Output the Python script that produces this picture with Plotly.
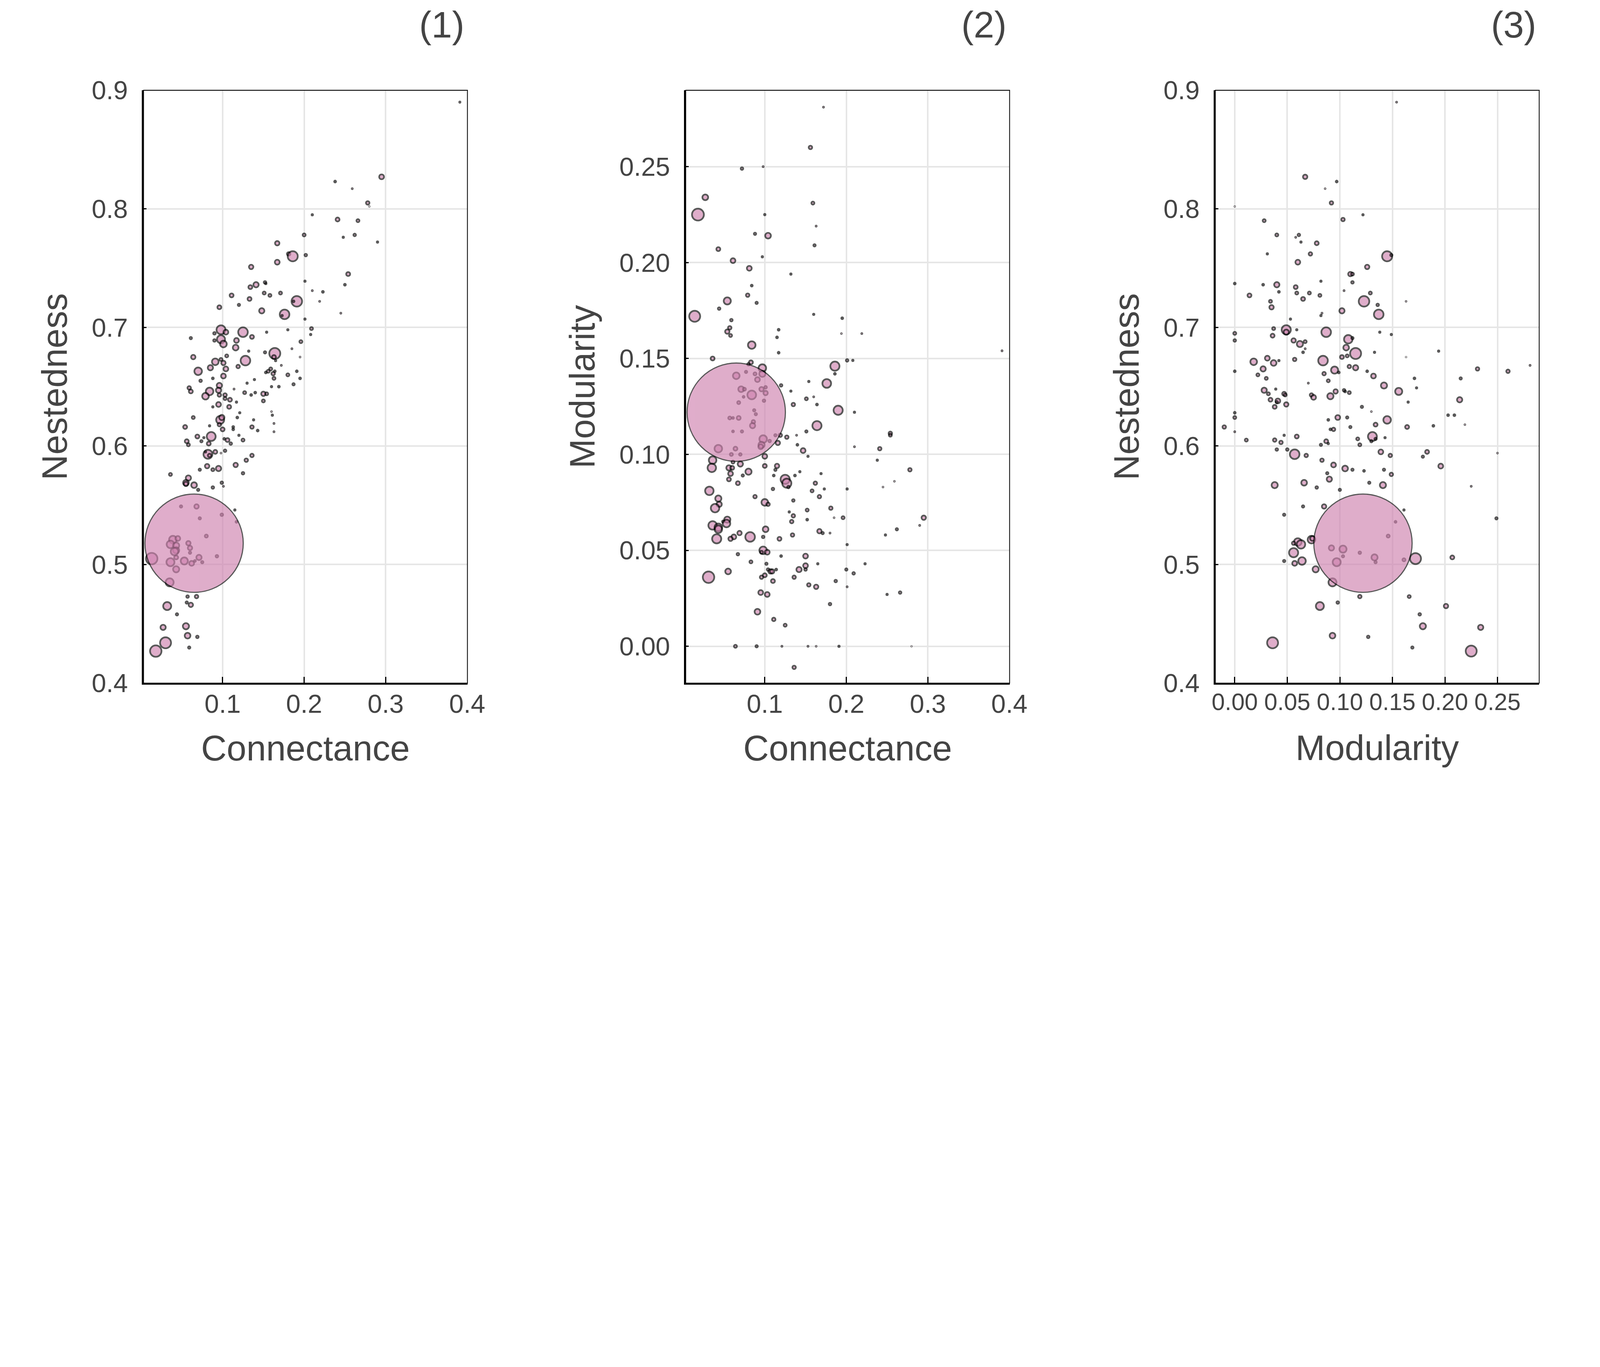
import plotly.graph_objects as go

# (connectance, nestedness, bubble diameter) (1)
panel1_points = [
    (0.391, 0.890, 5), (0.295, 0.827, 21), (0.238, 0.823, 8), (0.259, 0.817, 4), (0.278, 0.805, 15),
    (0.280, 0.802, 2), (0.210, 0.795, 6), (0.241, 0.791, 17), (0.266, 0.790, 13), (0.200, 0.778, 13),
    (0.248, 0.776, 6), (0.262, 0.778, 11), (0.290, 0.772, 6), (0.167, 0.771, 19), (0.181, 0.762, 15),
    (0.186, 0.760, 44), (0.202, 0.761, 11), (0.167, 0.755, 21), (0.135, 0.751, 19), (0.254, 0.745, 17),
    (0.201, 0.739, 6), (0.152, 0.738, 11), (0.153, 0.737, 6), (0.134, 0.734, 17), (0.141, 0.736, 23),
    (0.250, 0.736, 8), (0.210, 0.731, 4), (0.223, 0.730, 8), (0.111, 0.727, 17), (0.151, 0.729, 13),
    (0.158, 0.727, 13), (0.171, 0.729, 13), (0.133, 0.724, 17), (0.120, 0.719, 10), (0.219, 0.722, 4),
    (0.191, 0.722, 46), (0.187, 0.722, 8), (0.096, 0.717, 17), (0.148, 0.714, 23), (0.176, 0.711, 42),
    (0.173, 0.710, 6), (0.245, 0.712, 4), (0.201, 0.707, 6), (0.209, 0.699, 13), (0.208, 0.694, 6),
    (0.180, 0.698, 6), (0.154, 0.696, 6), (0.098, 0.698, 39), (0.104, 0.696, 21), (0.090, 0.695, 11),
    (0.125, 0.696, 42), (0.136, 0.692, 17), (0.061, 0.691, 10), (0.090, 0.689, 11), (0.098, 0.690, 35),
    (0.101, 0.686, 29), (0.117, 0.689, 21), (0.116, 0.683, 25), (0.196, 0.688, 13), (0.132, 0.680, 6),
    (0.152, 0.679, 10), (0.185, 0.682, 4), (0.195, 0.675, 3), (0.164, 0.678, 48), (0.163, 0.675, 17),
    (0.165, 0.672, 6), (0.064, 0.675, 19), (0.105, 0.676, 13), (0.098, 0.673, 13), (0.091, 0.671, 29),
    (0.101, 0.670, 19), (0.128, 0.672, 42), (0.172, 0.668, 4), (0.070, 0.663, 33), (0.085, 0.666, 23),
    (0.104, 0.665, 21), (0.119, 0.667, 15), (0.159, 0.665, 13), (0.156, 0.663, 13), (0.153, 0.662, 8),
    (0.164, 0.663, 8), (0.162, 0.661, 15), (0.191, 0.663, 8), (0.180, 0.660, 13), (0.101, 0.659, 21),
    (0.073, 0.655, 11), (0.088, 0.657, 8), (0.163, 0.657, 13), (0.195, 0.657, 8), (0.139, 0.656, 6),
    (0.130, 0.653, 6), (0.187, 0.652, 10), (0.160, 0.650, 6), (0.169, 0.650, 8), (0.096, 0.651, 23),
    (0.059, 0.649, 15), (0.061, 0.646, 17), (0.084, 0.646, 33), (0.079, 0.642, 29), (0.095, 0.647, 23),
    (0.096, 0.643, 15), (0.103, 0.643, 15), (0.103, 0.640, 13), (0.109, 0.639, 17), (0.127, 0.645, 13),
    (0.135, 0.643, 8), (0.140, 0.645, 8), (0.150, 0.644, 19), (0.154, 0.644, 13), (0.150, 0.638, 13),
    (0.114, 0.648, 4), (0.117, 0.637, 6), (0.088, 0.633, 6), (0.095, 0.635, 21), (0.108, 0.633, 17),
    (0.064, 0.624, 13), (0.121, 0.628, 6), (0.160, 0.629, 3), (0.161, 0.626, 6), (0.097, 0.622, 35),
    (0.099, 0.624, 23), (0.118, 0.624, 8), (0.138, 0.622, 6), (0.054, 0.616, 17), (0.084, 0.617, 6),
    (0.096, 0.618, 15), (0.100, 0.614, 17), (0.113, 0.616, 8), (0.113, 0.614, 8), (0.136, 0.616, 15),
    (0.143, 0.613, 8), (0.163, 0.619, 4), (0.163, 0.612, 4), (0.069, 0.608, 17), (0.086, 0.608, 39),
    (0.077, 0.607, 6), (0.074, 0.604, 10), (0.056, 0.604, 17), (0.058, 0.601, 13), (0.083, 0.602, 17),
    (0.102, 0.606, 8), (0.106, 0.605, 17), (0.110, 0.602, 11), (0.120, 0.609, 6), (0.125, 0.605, 13),
    (0.082, 0.593, 39), (0.084, 0.592, 15), (0.079, 0.595, 6), (0.091, 0.595, 17), (0.103, 0.596, 11),
    (0.098, 0.594, 3), (0.136, 0.592, 15), (0.129, 0.588, 15), (0.072, 0.580, 10), (0.081, 0.583, 19),
    (0.088, 0.580, 13), (0.095, 0.581, 23), (0.116, 0.584, 19), (0.125, 0.577, 11), (0.036, 0.576, 13),
    (0.058, 0.573, 23), (0.055, 0.569, 25), (0.055, 0.568, 19), (0.065, 0.567, 25), (0.070, 0.563, 10),
    (0.088, 0.565, 11), (0.099, 0.569, 11), (0.101, 0.566, 4), (0.115, 0.546, 6), (0.049, 0.549, 10),
    (0.068, 0.549, 19), (0.072, 0.539, 10), (0.099, 0.542, 11), (0.117, 0.536, 8), (0.080, 0.524, 13),
    (0.039, 0.521, 33), (0.045, 0.522, 21), (0.036, 0.517, 33), (0.043, 0.516, 27), (0.043, 0.512, 27),
    (0.041, 0.511, 33), (0.058, 0.518, 19), (0.060, 0.514, 19), (0.060, 0.510, 10), (0.043, 0.506, 17),
    (0.013, 0.505, 50), (0.036, 0.502, 35), (0.053, 0.503, 31), (0.062, 0.501, 21), (0.071, 0.506, 23),
    (0.066, 0.503, 8), (0.075, 0.502, 10), (0.093, 0.507, 11), (0.043, 0.496, 27), (0.035, 0.485, 35),
    (0.057, 0.473, 11), (0.068, 0.473, 15), (0.056, 0.468, 10), (0.061, 0.466, 19), (0.032, 0.465, 35),
    (0.044, 0.458, 10), (0.027, 0.447, 23), (0.055, 0.448, 27), (0.057, 0.440, 25), (0.069, 0.439, 11),
    (0.030, 0.434, 48), (0.059, 0.430, 10), (0.018, 0.427, 50),
    (0.065, 0.518, 430),
]

# (connectance, modularity, bubble diameter) (2)
panel2_points = [
    (0.172, 0.281, 4), (0.156, 0.260, 15), (0.072, 0.249, 11), (0.098, 0.250, 4), (0.027, 0.234, 25),
    (0.018, 0.225, 52), (0.159, 0.231, 13), (0.100, 0.225, 6), (0.163, 0.219, 4), (0.088, 0.215, 10),
    (0.104, 0.214, 25), (0.161, 0.209, 10), (0.043, 0.207, 17), (0.097, 0.203, 6), (0.061, 0.201, 21),
    (0.081, 0.197, 21), (0.132, 0.194, 6), (0.084, 0.188, 8), (0.079, 0.183, 15), (0.090, 0.179, 10),
    (0.054, 0.180, 31), (0.044, 0.176, 11), (0.014, 0.172, 48), (0.059, 0.170, 11), (0.057, 0.166, 15),
    (0.054, 0.164, 19), (0.058, 0.162, 13), (0.117, 0.165, 8), (0.115, 0.161, 8), (0.160, 0.173, 6),
    (0.195, 0.171, 8), (0.194, 0.163, 3), (0.219, 0.163, 4), (0.084, 0.157, 33), (0.117, 0.153, 8),
    (0.391, 0.154, 4), (0.036, 0.150, 17), (0.201, 0.149, 11), (0.208, 0.149, 6), (0.083, 0.148, 17),
    (0.080, 0.147, 11), (0.097, 0.145, 33), (0.186, 0.146, 40), (0.186, 0.142, 8), (0.065, 0.141, 29),
    (0.077, 0.143, 10), (0.088, 0.142, 13), (0.097, 0.142, 27), (0.091, 0.139, 21), (0.120, 0.136, 11),
    (0.132, 0.133, 6), (0.154, 0.138, 6), (0.176, 0.137, 38), (0.071, 0.134, 25), (0.075, 0.134, 13),
    (0.096, 0.134, 19), (0.101, 0.135, 11), (0.084, 0.131, 38), (0.101, 0.132, 19), (0.074, 0.130, 8),
    (0.068, 0.127, 13), (0.099, 0.128, 11), (0.151, 0.129, 13), (0.160, 0.130, 4), (0.135, 0.126, 15),
    (0.164, 0.126, 8), (0.190, 0.123, 40), (0.210, 0.122, 6), (0.087, 0.123, 10), (0.089, 0.121, 10),
    (0.057, 0.119, 13), (0.061, 0.119, 8), (0.068, 0.119, 17), (0.086, 0.117, 15), (0.085, 0.115, 23),
    (0.164, 0.115, 40), (0.061, 0.112, 8), (0.072, 0.112, 10), (0.151, 0.112, 10), (0.254, 0.111, 15),
    (0.254, 0.110, 13), (0.098, 0.108, 33), (0.106, 0.107, 11), (0.113, 0.110, 10), (0.119, 0.110, 15),
    (0.127, 0.109, 15), (0.139, 0.110, 4), (0.116, 0.106, 19), (0.096, 0.105, 27), (0.095, 0.104, 21),
    (0.140, 0.105, 8), (0.210, 0.104, 4), (0.241, 0.103, 15), (0.043, 0.103, 33), (0.064, 0.103, 17),
    (0.147, 0.102, 21), (0.059, 0.100, 13), (0.070, 0.100, 11), (0.100, 0.099, 21), (0.153, 0.099, 6),
    (0.238, 0.097, 6), (0.036, 0.097, 33), (0.061, 0.096, 13), (0.070, 0.095, 23), (0.035, 0.093, 37),
    (0.056, 0.093, 23), (0.060, 0.093, 17), (0.080, 0.091, 27), (0.100, 0.094, 17), (0.115, 0.094, 19),
    (0.113, 0.092, 10), (0.143, 0.091, 6), (0.169, 0.090, 6), (0.278, 0.092, 15), (0.058, 0.090, 21),
    (0.073, 0.089, 10), (0.111, 0.089, 8), (0.137, 0.089, 8), (0.125, 0.087, 40), (0.127, 0.085, 40),
    (0.129, 0.083, 11), (0.056, 0.087, 17), (0.067, 0.085, 17), (0.162, 0.085, 15), (0.259, 0.086, 3),
    (0.245, 0.083, 3), (0.201, 0.082, 6), (0.173, 0.082, 6), (0.110, 0.082, 11), (0.158, 0.081, 13),
    (0.032, 0.081, 37), (0.167, 0.078, 15), (0.088, 0.078, 15), (0.043, 0.077, 27), (0.044, 0.074, 23),
    (0.100, 0.075, 29), (0.104, 0.074, 15), (0.135, 0.076, 11), (0.039, 0.072, 37), (0.181, 0.072, 15),
    (0.152, 0.071, 13), (0.130, 0.070, 6), (0.135, 0.068, 15), (0.295, 0.067, 19), (0.196, 0.067, 13),
    (0.185, 0.067, 3), (0.152, 0.066, 8), (0.054, 0.066, 27), (0.049, 0.065, 10), (0.053, 0.064, 33),
    (0.036, 0.063, 37), (0.043, 0.062, 33), (0.043, 0.061, 33), (0.133, 0.065, 15), (0.290, 0.063, 4),
    (0.101, 0.061, 25), (0.262, 0.061, 10), (0.069, 0.059, 19), (0.167, 0.060, 19), (0.171, 0.059, 10),
    (0.180, 0.059, 4), (0.082, 0.057, 42), (0.062, 0.057, 21), (0.058, 0.056, 19), (0.041, 0.056, 40),
    (0.098, 0.057, 11), (0.134, 0.058, 15), (0.118, 0.056, 17), (0.248, 0.058, 6), (0.201, 0.053, 6),
    (0.098, 0.050, 33), (0.103, 0.049, 21), (0.096, 0.049, 13), (0.067, 0.048, 11), (0.120, 0.047, 8),
    (0.150, 0.047, 21), (0.083, 0.044, 13), (0.102, 0.043, 10), (0.165, 0.043, 6), (0.223, 0.043, 6),
    (0.150, 0.042, 21), (0.150, 0.040, 11), (0.142, 0.040, 23), (0.104, 0.040, 11), (0.114, 0.040, 8),
    (0.107, 0.039, 19), (0.109, 0.039, 19), (0.100, 0.037, 17), (0.200, 0.040, 10), (0.055, 0.039, 25),
    (0.031, 0.036, 50), (0.096, 0.036, 15), (0.136, 0.036, 15), (0.209, 0.038, 11), (0.110, 0.034, 17),
    (0.187, 0.034, 11), (0.154, 0.032, 15), (0.163, 0.031, 19), (0.201, 0.031, 4), (0.266, 0.028, 11),
    (0.250, 0.027, 6), (0.095, 0.028, 21), (0.103, 0.027, 21), (0.180, 0.022, 11), (0.091, 0.018, 25),
    (0.111, 0.014, 15), (0.125, 0.011, 13), (0.064, 0.000, 13), (0.090, 0.000, 10), (0.121, 0.000, 4),
    (0.153, 0.000, 4), (0.163, 0.000, 3), (0.191, 0.000, 6), (0.280, 0.000, 2), (0.136, -0.011, 15),
    (0.065, 0.122, 430),
]

# (modularity, nestedness, bubble diameter) (3)
panel3_points = [
    (0.154, 0.890, 4), (0.067, 0.827, 19), (0.097, 0.823, 8), (0.086, 0.817, 3), (0.092, 0.805, 15),
    (0.000, 0.802, 2), (0.122, 0.795, 6), (0.028, 0.790, 13), (0.103, 0.791, 15), (0.040, 0.778, 13),
    (0.058, 0.776, 4), (0.061, 0.778, 11), (0.063, 0.772, 6), (0.078, 0.771, 17), (0.031, 0.762, 6),
    (0.072, 0.762, 15), (0.145, 0.760, 44), (0.149, 0.761, 10), (0.060, 0.755, 21), (0.126, 0.751, 19),
    (0.110, 0.745, 19), (0.112, 0.745, 13), (0.112, 0.738, 11), (0.000, 0.737, 8), (0.027, 0.736, 8),
    (0.040, 0.736, 23), (0.042, 0.730, 8), (0.058, 0.734, 17), (0.082, 0.739, 6), (0.104, 0.731, 4),
    (0.014, 0.727, 17), (0.059, 0.729, 13), (0.071, 0.729, 13), (0.081, 0.727, 13), (0.129, 0.729, 13),
    (0.034, 0.722, 13), (0.065, 0.724, 17), (0.123, 0.722, 46), (0.136, 0.719, 11), (0.163, 0.722, 3),
    (0.035, 0.717, 19), (0.102, 0.714, 23), (0.137, 0.711, 42), (0.083, 0.712, 4), (0.082, 0.710, 6),
    (0.053, 0.707, 6), (0.000, 0.695, 13), (0.000, 0.689, 11), (0.037, 0.699, 13), (0.036, 0.693, 17),
    (0.049, 0.698, 40), (0.049, 0.696, 23), (0.059, 0.698, 6), (0.087, 0.696, 42), (0.108, 0.690, 37),
    (0.112, 0.691, 10), (0.138, 0.696, 6), (0.149, 0.694, 6), (0.056, 0.689, 19), (0.062, 0.686, 27),
    (0.067, 0.688, 13), (0.106, 0.683, 25), (0.067, 0.682, 4), (0.065, 0.679, 8), (0.115, 0.678, 48),
    (0.133, 0.679, 6), (0.194, 0.680, 6), (0.163, 0.675, 2), (0.018, 0.671, 29), (0.031, 0.674, 21),
    (0.037, 0.670, 25), (0.042, 0.672, 6), (0.057, 0.673, 15), (0.084, 0.672, 42), (0.102, 0.675, 17),
    (0.107, 0.676, 13), (0.000, 0.663, 8), (0.027, 0.665, 23), (0.022, 0.660, 13), (0.030, 0.657, 13),
    (0.085, 0.661, 15), (0.095, 0.664, 31), (0.099, 0.662, 8), (0.109, 0.667, 15), (0.115, 0.666, 23),
    (0.126, 0.663, 8), (0.132, 0.659, 21), (0.171, 0.657, 8), (0.173, 0.649, 6), (0.215, 0.657, 10),
    (0.231, 0.665, 15), (0.260, 0.663, 15), (0.281, 0.668, 4), (0.089, 0.655, 13), (0.070, 0.653, 4),
    (0.142, 0.651, 27), (0.028, 0.647, 23), (0.032, 0.644, 13), (0.039, 0.648, 6), (0.047, 0.644, 17),
    (0.048, 0.643, 13), (0.034, 0.639, 17), (0.041, 0.638, 21), (0.040, 0.637, 10), (0.038, 0.633, 17),
    (0.049, 0.635, 19), (0.073, 0.643, 15), (0.075, 0.641, 21), (0.091, 0.642, 27), (0.096, 0.646, 19),
    (0.104, 0.647, 11), (0.105, 0.646, 8), (0.109, 0.645, 13), (0.156, 0.646, 31), (0.214, 0.639, 23),
    (0.165, 0.637, 6), (0.121, 0.633, 10), (0.130, 0.629, 3), (0.000, 0.628, 8), (0.000, 0.624, 13),
    (-0.010, 0.616, 15), (0.000, 0.612, 4), (0.098, 0.624, 21), (0.107, 0.624, 10), (0.089, 0.622, 8),
    (0.145, 0.622, 33), (0.203, 0.626, 8), (0.209, 0.626, 8), (0.219, 0.618, 3), (0.189, 0.617, 8),
    (0.164, 0.616, 17), (0.134, 0.618, 17), (0.110, 0.616, 10), (0.091, 0.614, 8), (0.094, 0.614, 15),
    (0.011, 0.605, 13), (0.047, 0.609, 6), (0.059, 0.608, 17), (0.038, 0.605, 15), (0.044, 0.603, 15),
    (0.087, 0.604, 17), (0.089, 0.602, 6), (0.082, 0.601, 10), (0.117, 0.606, 13), (0.119, 0.601, 13),
    (0.131, 0.608, 39), (0.130, 0.604, 10), (0.134, 0.606, 10), (0.143, 0.607, 6), (0.040, 0.597, 11),
    (0.050, 0.597, 11), (0.057, 0.593, 42), (0.068, 0.592, 15), (0.139, 0.595, 21), (0.148, 0.592, 15),
    (0.183, 0.595, 17), (0.179, 0.591, 10), (0.250, 0.594, 3), (0.083, 0.588, 15), (0.094, 0.584, 21),
    (0.105, 0.581, 25), (0.112, 0.580, 10), (0.123, 0.579, 8), (0.142, 0.580, 10), (0.149, 0.576, 15),
    (0.196, 0.583, 21), (0.088, 0.577, 10), (0.090, 0.572, 23), (0.038, 0.567, 27), (0.066, 0.569, 25),
    (0.078, 0.565, 11), (0.100, 0.563, 10), (0.128, 0.569, 10), (0.141, 0.567, 27), (0.225, 0.566, 4),
    (0.065, 0.549, 10), (0.085, 0.549, 19), (0.047, 0.542, 10), (0.161, 0.546, 6), (0.249, 0.539, 10),
    (0.153, 0.536, 8), (0.146, 0.524, 13), (0.073, 0.521, 33), (0.074, 0.522, 21), (0.060, 0.519, 33),
    (0.056, 0.518, 15), (0.063, 0.517, 37), (0.056, 0.510, 40), (0.092, 0.514, 23), (0.103, 0.513, 31),
    (0.103, 0.507, 10), (0.119, 0.510, 11), (0.133, 0.506, 27), (0.134, 0.502, 10), (0.097, 0.502, 35),
    (0.161, 0.504, 13), (0.172, 0.505, 48), (0.207, 0.506, 17), (0.047, 0.503, 10), (0.057, 0.501, 21),
    (0.064, 0.503, 33), (0.077, 0.496, 27), (0.093, 0.485, 35), (0.119, 0.473, 15), (0.098, 0.468, 11),
    (0.081, 0.465, 35), (0.166, 0.473, 13), (0.201, 0.465, 19), (0.176, 0.458, 11), (0.179, 0.448, 27),
    (0.234, 0.447, 23), (0.093, 0.440, 25), (0.127, 0.439, 11), (0.036, 0.434, 48), (0.169, 0.430, 10),
    (0.225, 0.427, 48),
    (0.122, 0.518, 430),
]

conn_1, nest_1, bubble_1 = map(list, zip(*panel1_points))
conn_2, mod_2, bubble_2 = map(list, zip(*panel2_points))
mod_3, nest_3, bubble_3 = map(list, zip(*panel3_points))

nest_ticks = [0.4, 0.5, 0.6, 0.7, 0.8, 0.9]
conn_ticks = [0.1, 0.2, 0.3, 0.4]
mod_ticks = [0.0, 0.05, 0.10, 0.15, 0.20, 0.25]

# Everything below is measured on the 7000x3500 reference picture and then
# converted to css px: the page is shot at ~1.71 device px per css px.
REF_W = 7000
S = 4096 / REF_W
PAD = 8  # default body margin of the page
FIG_W, FIG_H = 4080, 2032


def px(v):
    return v * S


def fx(v):  # reference x pixel -> paper fraction
    return (px(v) - PAD) / FIG_W


def fy(v):  # reference y pixel (from top) -> paper fraction
    return 1 - (px(v) - PAD) / FIG_H


FONT = "Liberation Sans, Arial, Helvetica, sans-serif"
INK = "#444444"
FILL = "rgb(207,130,175)"

panel_left = [628, 3000, 5317]
panel_w = 1417
plot_top, plot_bottom = 395, 2989


def bubbles(x, y, s, idx):
    return go.Scatter(
        x=x,
        y=y,
        mode="markers",
        marker=dict(
            size=s,
            sizeref=1 / S,
            sizemode="diameter",
            color=FILL,
            opacity=0.65,
            line=dict(color="black", width=[px(5) if v > 200 else px(7.5) for v in s]),
        ),
        xaxis=f"x{idx}",
        yaxis=f"y{idx}",
        showlegend=False,
        hoverinfo="x+y",
    )


def axis(title, rng, ticks, labels, dom, anchor, is_y, tick_size=114, title_gap=80):
    return dict(
        domain=dom,
        anchor=anchor,
        range=rng,
        tickvals=ticks,
        ticktext=labels,
        tickangle=0,
        ticks="inside",
        ticklen=px(14) if is_y else px(28),
        tickwidth=px(5),
        tickcolor="black",
        tickfont=dict(family=FONT, size=px(tick_size), color=INK),
        ticklabelstandoff=round(px(40)) if is_y else round(px(-14)),
        showline=True,
        linewidth=px(6),
        linecolor="black",
        mirror=False,
        showgrid=True,
        gridcolor="#e6e6e6",
        gridwidth=px(6),
        zeroline=False,
        automargin=False,
        title=dict(text=title, font=dict(family=FONT, size=px(155), color=INK),
                   standoff=px(58) if is_y else px(title_gap)),
    )


fig = go.Figure(
    data=[
        bubbles(conn_1, nest_1, bubble_1, 1),
        bubbles(conn_2, mod_2, bubble_2, 2),
        bubbles(mod_3, nest_3, bubble_3, 3),
    ]
)

nest_labels = [f"{v:.1f}" for v in nest_ticks]
conn_labels = [f"{v:.1f}" for v in conn_ticks]
mod_labels = [f"{v:.2f}" for v in mod_ticks]

panels = [
    ("Connectance", [0.003, 0.4003], conn_ticks, conn_labels,
     "Nestedness", [0.4, 0.9], nest_ticks, nest_labels),
    ("Connectance", [0.003, 0.4003], conn_ticks, conn_labels,
     "Modularity", [-0.0192, 0.2898], mod_ticks, mod_labels),
    ("Modularity", [-0.0185, 0.2897], mod_ticks, mod_labels,
     "Nestedness", [0.4, 0.9], nest_ticks, nest_labels),
]

layout = dict(
    width=FIG_W,
    height=FIG_H,
    margin=dict(l=0, r=0, t=0, b=0),
    paper_bgcolor="white",
    plot_bgcolor="white",
    showlegend=False,
    shapes=[],
    annotations=[],
)

y_dom = [fy(plot_bottom), fy(plot_top)]
for i, (xt, xr, xtv, xtl, yt, yr, ytv, ytl) in enumerate(panels, start=1):
    left = panel_left[i - 1]
    x_dom = [fx(left), fx(left + panel_w)]
    sfx = "" if i == 1 else str(i)
    # the crowded 0.00 ... 0.25 labels of panel (3) are set a bit smaller
    if i == 3:
        x_ax = axis(xt, xr, xtv, xtl, x_dom, f"y{i}", False, 104, 92)
    else:
        x_ax = axis(xt, xr, xtv, xtl, x_dom, f"y{i}", False)
    layout[f"xaxis{sfx}"] = x_ax
    layout[f"yaxis{sfx}"] = axis(yt, yr, ytv, ytl, y_dom, f"x{i}", True)
    # thin box around each plot area
    layout["shapes"].append(dict(
        type="rect", xref=f"x{sfx} domain", yref=f"y{sfx} domain",
        x0=0, x1=1, y0=0, y1=1, line=dict(color="black", width=px(3.5)), layer="above",
    ))
    layout["annotations"].append(dict(
        text=f"({i})", xref="paper", yref="paper",
        x=fx(left + panel_w - 9), y=fy(108),
        xanchor="right", yanchor="middle", showarrow=False,
        font=dict(family=FONT, size=px(162), color=INK),
    ))

fig.update_layout(**layout)
fig.write_html("out.html")
